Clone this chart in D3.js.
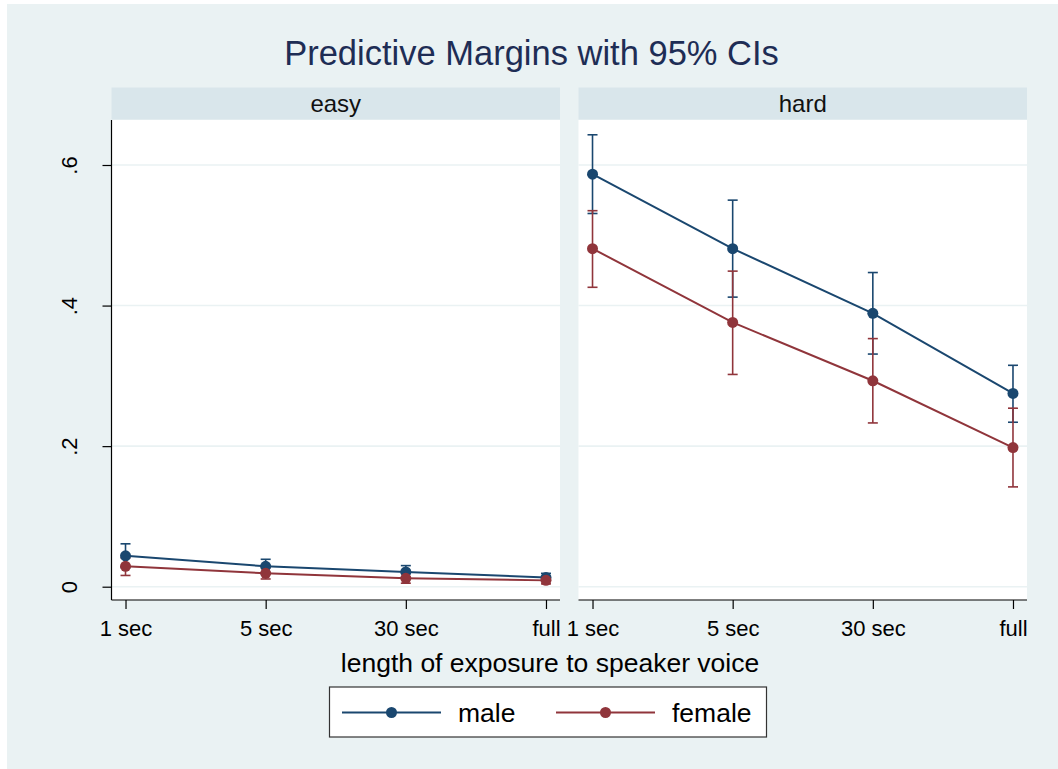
<!DOCTYPE html>
<html>
<head>
<meta charset="utf-8">
<script src="https://cdn.jsdelivr.net/npm/d3@7"></script>
<style>
body{margin:0;background:#fff;}
text{font-family:"Liberation Sans",Arial,sans-serif;}
</style>
</head>
<body>
<div class="chart"></div>
<script>
var width = 1058,
    height = 769;

// data
var panels = ["easy", "hard"];
var exposure = ["1 sec", "5 sec", "30 sec", "full"];
var groups = ["male", "female"];
var yTicks = [0, 0.2, 0.4, 0.6];
var yTickLabels = ["0", ".2", ".4", ".6"];

var easyMale      = [0.044, 0.029, 0.021, 0.013];
var easyMaleLo    = [0.027, 0.018, 0.013, 0.008];
var easyMaleHi    = [0.061, 0.039, 0.030, 0.019];
var easyFemale    = [0.029, 0.019, 0.012, 0.009];
var easyFemaleLo  = [0.016, 0.011, 0.005, 0.004];
var easyFemaleHi  = [0.041, 0.027, 0.019, 0.014];

var hardMale      = [0.587, 0.481, 0.389, 0.275];
var hardMaleLo    = [0.531, 0.412, 0.331, 0.234];
var hardMaleHi    = [0.643, 0.550, 0.447, 0.315];
var hardFemale    = [0.481, 0.376, 0.293, 0.198];
var hardFemaleLo  = [0.426, 0.302, 0.233, 0.142];
var hardFemaleHi  = [0.535, 0.449, 0.353, 0.254];

var series = {
  easy: [
    {name: "male", est: easyMale, lo: easyMaleLo, hi: easyMaleHi},
    {name: "female", est: easyFemale, lo: easyFemaleLo, hi: easyFemaleHi}
  ],
  hard: [
    {name: "male", est: hardMale, lo: hardMaleLo, hi: hardMaleHi},
    {name: "female", est: hardFemale, lo: hardFemaleLo, hi: hardFemaleHi}
  ]
};

var colors = {male: "#1a476f", female: "#90353b"};

var svg = d3.select(".chart").append("svg")
    .attr("width", width)
    .attr("height", height);

// outer background
svg.append("rect")
    .attr("x", 7).attr("y", 4)
    .attr("width", width - 7).attr("height", height - 4)
    .attr("fill", "#eaf2f3");

svg.append("text")
    .attr("x", 531.5).attr("y", 65)
    .attr("text-anchor", "middle")
    .attr("font-size", 34.5)
    .attr("fill", "#1e2d55")
    .text("Predictive Margins with 95% CIs");

var plotTop = 120, plotBottom = 600;
var panelX = {easy: [111.5, 560], hard: [578.5, 1027]};

var y = d3.scaleLinear().domain([0, 0.6]).range([586.7, 165]);

panels.forEach(function(p, pi){
  var x0 = panelX[p][0], x1 = panelX[p][1];
  var x = d3.scalePoint().domain(exposure).range([x0, x1]).padding(0.1);
  var g = svg.append("g");

  // strip header
  g.append("rect")
      .attr("x", x0).attr("y", 87.5)
      .attr("width", x1 - x0).attr("height", 32)
      .attr("fill", "#d9e6eb");
  g.append("text")
      .attr("x", (x0 + x1) / 2).attr("y", 111.5)
      .attr("text-anchor", "middle")
      .attr("font-size", 24)
      .attr("fill", "#111")
      .text(p);

  // plot region
  g.append("rect")
      .attr("x", x0).attr("y", plotTop)
      .attr("width", x1 - x0).attr("height", plotBottom - plotTop)
      .attr("fill", "#fff");

  // gridlines
  g.selectAll(".grid")
      .data(yTicks)
      .enter().append("line")
      .attr("x1", x0).attr("x2", x1)
      .attr("y1", function(d){ return y(d); })
      .attr("y2", function(d){ return y(d); })
      .attr("stroke", "#eaf2f3")
      .attr("stroke-width", 1.6);

  // x axis
  var xAxis = g.append("g")
      .attr("transform", "translate(0," + plotBottom + ")")
      .call(d3.axisBottom(x).tickSize(9).tickPadding(11));
  xAxis.select(".domain").attr("stroke", "#000").attr("stroke-width", 1.2)
      .attr("d", "M" + x0 + ",0H" + x1);
  xAxis.selectAll(".tick line").attr("stroke", "#000").attr("stroke-width", 1.2);
  xAxis.selectAll(".tick text")
      .attr("font-size", 22)
      .attr("fill", "#000")
      .attr("font-family", "Liberation Sans, Arial, sans-serif");

  // y axis only on first panel
  if (pi === 0) {
    var yAxis = g.append("g")
        .attr("transform", "translate(" + x0 + ",0)")
        .call(d3.axisLeft(y).tickValues(yTicks)
              .tickFormat(function(d, i){ return yTickLabels[i]; })
              .tickSize(9).tickPadding(26));
    yAxis.select(".domain").attr("stroke", "#000").attr("stroke-width", 1.2)
        .attr("d", "M0," + plotTop + "V" + plotBottom);
    yAxis.selectAll(".tick line").attr("stroke", "#000").attr("stroke-width", 1.2);
    yAxis.selectAll(".tick text")
        .attr("font-size", 22)
        .attr("fill", "#000")
        .attr("font-family", "Liberation Sans, Arial, sans-serif")
        .attr("text-anchor", "middle")
        .attr("dy", "0")
        .attr("transform", "rotate(-90) translate(0,-35)")
        .attr("x", 0)
        .attr("y", 0);
  }

  var line = d3.line()
      .x(function(d, i){ return x(exposure[i]); })
      .y(function(d){ return y(d); });

  series[p].forEach(function(s){
    var col = colors[s.name];
    var ci = g.append("g");
    ci.selectAll("line.bar")
        .data(exposure)
        .enter().append("line")
        .attr("x1", function(d){ return x(d); })
        .attr("x2", function(d){ return x(d); })
        .attr("y1", function(d, i){ return y(s.lo[i]); })
        .attr("y2", function(d, i){ return y(s.hi[i]); })
        .attr("stroke", col).attr("stroke-width", 1.6);
    ["lo", "hi"].forEach(function(k){
      ci.selectAll("line.cap" + k)
          .data(exposure)
          .enter().append("line")
          .attr("x1", function(d){ return x(d) - 5; })
          .attr("x2", function(d){ return x(d) + 5; })
          .attr("y1", function(d, i){ return y(s[k][i]); })
          .attr("y2", function(d, i){ return y(s[k][i]); })
          .attr("stroke", col).attr("stroke-width", 1.6);
    });
  });

  series[p].forEach(function(s){
    var col = colors[s.name];
    g.append("path")
        .datum(s.est)
        .attr("d", line)
        .attr("fill", "none")
        .attr("stroke", col)
        .attr("stroke-width", 2);
    g.selectAll("circle." + s.name)
        .data(s.est)
        .enter().append("circle")
        .attr("cx", function(d, i){ return x(exposure[i]); })
        .attr("cy", function(d){ return y(d); })
        .attr("r", 5.5)
        .attr("fill", col);
  });
});

// axis title
svg.append("text")
    .attr("x", 550).attr("y", 672)
    .attr("text-anchor", "middle")
    .attr("font-size", 26.5)
    .attr("fill", "#000")
    .text("length of exposure to speaker voice");

// legend
var leg = svg.append("g");
leg.append("rect")
    .attr("x", 329.5).attr("y", 687)
    .attr("width", 437).attr("height", 50)
    .attr("fill", "#fff")
    .attr("stroke", "#333")
    .attr("stroke-width", 1.2);
var legX = [342, 556];
groups.forEach(function(gname, i){
  var lx = legX[i];
  leg.append("line")
      .attr("x1", lx).attr("x2", lx + 99)
      .attr("y1", 712.5).attr("y2", 712.5)
      .attr("stroke", colors[gname]).attr("stroke-width", 2);
  leg.append("circle")
      .attr("cx", lx + 49.5).attr("cy", 712.5)
      .attr("r", 5.5).attr("fill", colors[gname]);
  leg.append("text")
      .attr("x", lx + 116).attr("y", 721.5)
      .attr("font-size", 26.5)
      .attr("fill", "#000")
      .text(gname);
});
</script>
</body>
</html>
